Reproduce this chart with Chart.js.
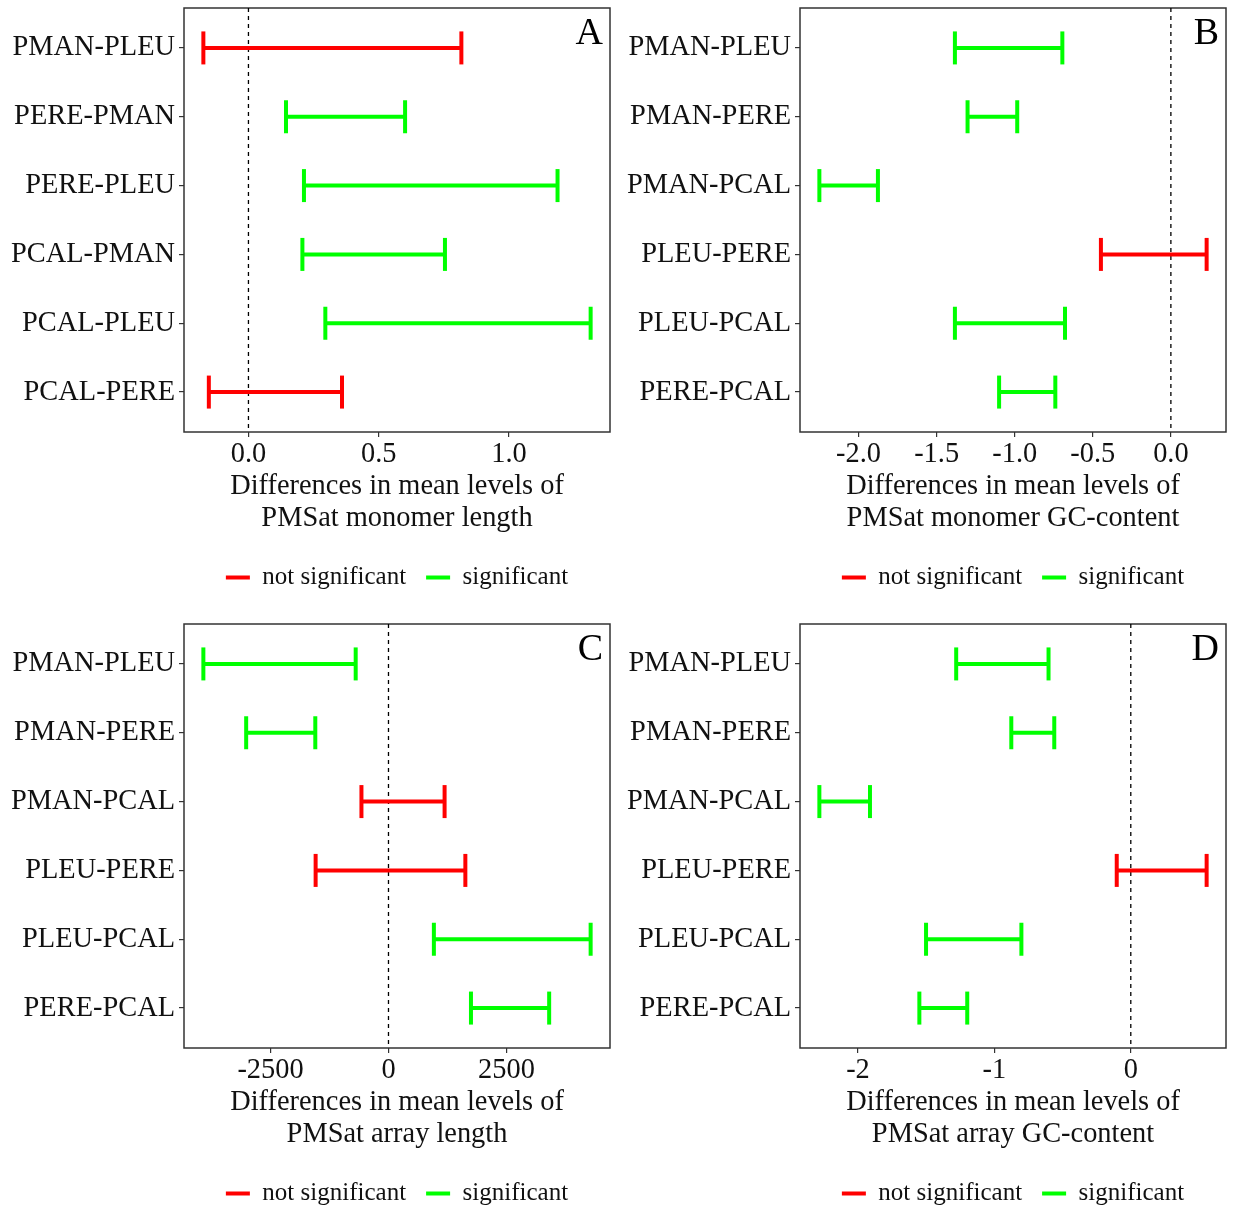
<!DOCTYPE html>
<html>
<head>
    <title>Differences in mean levels of PMSat</title>
    <script src="https://cdn.jsdelivr.net/npm/chart.js"></script>
    <style>
        body { margin: 0; background: #ffffff; overflow: hidden; }
        canvas { position: absolute; }
    </style>
</head>
<body>
    <canvas id="panelA" width="616" height="600" style="left:0px;top:0px"></canvas>
    <canvas id="panelB" width="616" height="600" style="left:616px;top:0px"></canvas>
    <canvas id="panelC" width="616" height="600" style="left:0px;top:616px"></canvas>
    <canvas id="panelD" width="616" height="600" style="left:616px;top:616px"></canvas>

    <script>
        // Comparison labels (top to bottom)
        var labelsA = ["PMAN-PLEU", "PERE-PMAN", "PERE-PLEU", "PCAL-PMAN", "PCAL-PLEU", "PCAL-PERE"];
        var labelsBCD = ["PMAN-PLEU", "PMAN-PERE", "PMAN-PCAL", "PLEU-PERE", "PLEU-PCAL", "PERE-PCAL"];

        // A: monomer length
        var lowA = [-0.173, 0.144, 0.213, 0.207, 0.295, -0.152];
        var highA = [0.817, 0.601, 1.186, 0.754, 1.313, 0.359];
        var sigA = [false, true, true, true, true, false];

        // B: monomer GC-content
        var lowB = [-1.383, -1.302, -2.251, -0.448, -1.383, -1.100];
        var highB = [-0.695, -0.984, -1.876, 0.229, -0.678, -0.740];
        var sigB = [true, true, true, false, true, true];

        // C: array length
        var lowC = [-3923, -3016, -573, -1544, 962, 1748];
        var highC = [-695, -1551, 1189, 1629, 4284, 3405];
        var sigC = [true, true, false, false, true, true];

        // D: array GC-content
        var lowD = [-1.280, -0.876, -2.283, -0.103, -1.501, -1.550];
        var highD = [-0.603, -0.561, -1.912, 0.556, -0.802, -1.199];
        var sigD = [true, true, true, false, true, true];

        // x ticks
        var ticksA = [0, 0.5, 1.0];
        var tickLabelsA = ["0.0", "0.5", "1.0"];
        var ticksB = [-2, -1.5, -1, -0.5, 0];
        var tickLabelsB = ["-2.0", "-1.5", "-1.0", "-0.5", "0.0"];
        var ticksC = [-2500, 0, 2500];
        var tickLabelsC = ["-2500", "0", "2500"];
        var ticksD = [-2, -1, 0];
        var tickLabelsD = ["-2", "-1", "0"];

        var titleA = ["Differences in mean levels of", "PMSat monomer length"];
        var titleB = ["Differences in mean levels of", "PMSat monomer GC-content"];
        var titleC = ["Differences in mean levels of", "PMSat array length"];
        var titleD = ["Differences in mean levels of", "PMSat array GC-content"];

        var legendNames = ["not significant", "significant"];
        var legendColors = ["#ff0000", "#00ff00"];

        var FONT = "'Liberation Serif', 'Times New Roman', serif";

        function makePanel(id, letter, labels, low, high, sig, tickVals, tickLabels, title) {
            var lo = Math.min.apply(null, low);
            var hi = Math.max.apply(null, high);
            var pad = (hi - lo) * 0.05;

            var datasets = [];
            // dashed zero line
            datasets.push({
                data: [{ x: 0, y: -0.58 }, { x: 0, y: labels.length - 0.42 }],
                showLine: true,
                borderColor: "#000000",
                borderWidth: 1.3,
                borderDash: [4, 4],
                pointRadius: 0,
                order: 2
            });
            // one error bar per comparison
            for (var i = 0; i < labels.length; i++) {
                var color = sig[i] ? legendColors[1] : legendColors[0];
                datasets.push({
                    data: [{ x: low[i], y: i }, { x: high[i], y: i }],
                    showLine: true,
                    borderColor: color,
                    borderWidth: 4,
                    pointStyle: "line",
                    rotation: 90,
                    pointRadius: 16.5,
                    pointBorderColor: color,
                    pointBorderWidth: 4,
                    order: 1
                });
            }

            var framePlugin = {
                id: "frame",
                beforeDatasetsDraw: function (chart) {
                    var a = chart.chartArea;
                    var ctx = chart.ctx;
                    ctx.save();
                    ctx.strokeStyle = "#333333";
                    ctx.lineWidth = 1.5;
                    ctx.strokeRect(a.left, a.top, a.right - a.left, a.bottom - a.top);
                    ctx.restore();
                },
                afterDraw: function (chart) {
                    var a = chart.chartArea;
                    var ctx = chart.ctx;
                    ctx.save();
                    ctx.fillStyle = "#000000";
                    ctx.font = "38px " + FONT;
                    ctx.textAlign = "right";
                    ctx.textBaseline = "alphabetic";
                    ctx.fillText(letter, a.right - 7, a.top + 36);
                    ctx.restore();
                }
            };

            return new Chart(document.getElementById(id), {
                type: "scatter",
                data: { datasets: datasets },
                plugins: [framePlugin],
                options: {
                    responsive: false,
                    animation: false,
                    devicePixelRatio: 1,
                    layout: { autoPadding: false, padding: { top: 8, right: 6, left: 0, bottom: 0 } },
                    scales: {
                        x: {
                            type: "linear",
                            min: lo - pad,
                            max: hi + pad,
                            afterBuildTicks: function (axis) {
                                axis.ticks = tickVals.map(function (v) { return { value: v }; });
                            },
                            afterFit: function (axis) {
                                axis.height = 113;
                                axis.paddingLeft = 0;
                                axis.paddingRight = 0;
                            },
                            grid: { drawOnChartArea: false, drawTicks: true, tickLength: 5, color: "#333333", lineWidth: 1.2 },
                            border: { display: false },
                            ticks: {
                                padding: 1,
                                color: "#111111",
                                font: { family: FONT, size: 28.4, lineHeight: 1.2 },
                                maxRotation: 0,
                                autoSkip: false,
                                callback: function (v, idx) { return tickLabels[idx]; }
                            },
                            title: {
                                display: true,
                                text: title,
                                color: "#111111",
                                font: { family: FONT, size: 28.4, lineHeight: 1.12 },
                                padding: { top: 0, bottom: 11 }
                            }
                        },
                        y: {
                            type: "linear",
                            reverse: true,
                            min: -0.58,
                            max: labels.length - 0.42,
                            afterBuildTicks: function (axis) {
                                axis.ticks = labels.map(function (l, k) { return { value: k }; });
                            },
                            afterFit: function (axis) {
                                axis.width = 184;
                                axis.paddingTop = 0;
                                axis.paddingBottom = 0;
                            },
                            grid: { drawOnChartArea: false, drawTicks: true, tickLength: 5, color: "#333333", lineWidth: 1.2 },
                            border: { display: false },
                            ticks: {
                                padding: 4,
                                color: "#111111",
                                font: { family: FONT, size: 28.4 },
                                autoSkip: false,
                                callback: function (v) { return labels[v]; }
                            }
                        }
                    },
                    plugins: {
                        tooltip: { enabled: false },
                        legend: {
                            position: "bottom",
                            fullSize: false,
                            onClick: null,
                            labels: {
                                usePointStyle: true,
                                pointStyleWidth: 24,
                                padding: 20,
                                color: "#111111",
                                font: { family: FONT, size: 25 },
                                generateLabels: function () {
                                    return legendNames.map(function (name, k) {
                                        return {
                                            text: name,
                                            fillStyle: legendColors[k],
                                            strokeStyle: legendColors[k],
                                            lineWidth: 4,
                                            pointStyle: "line",
                                            hidden: false,
                                            fontColor: "#111111"
                                        };
                                    });
                                }
                            }
                        }
                    }
                }
            });
        }

        makePanel("panelA", "A", labelsA, lowA, highA, sigA, ticksA, tickLabelsA, titleA);
        makePanel("panelB", "B", labelsBCD, lowB, highB, sigB, ticksB, tickLabelsB, titleB);
        makePanel("panelC", "C", labelsBCD, lowC, highC, sigC, ticksC, tickLabelsC, titleC);
        makePanel("panelD", "D", labelsBCD, lowD, highD, sigD, ticksD, tickLabelsD, titleD);
    </script>
</body>
</html>
